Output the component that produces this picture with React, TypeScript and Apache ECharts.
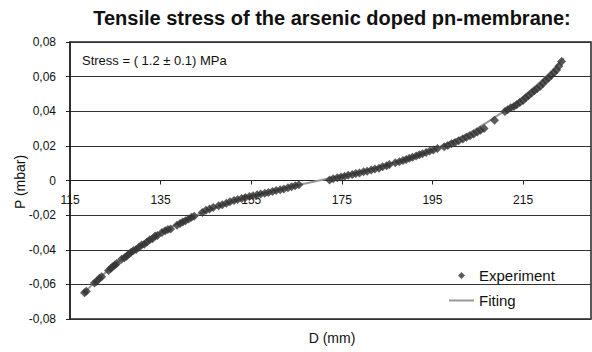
import React, { useEffect, useRef } from "react";
import * as echarts from "echarts";

const TITLE = "Tensile stress of the arsenic doped pn-membrane:";
const ANNOTATION = "Stress = ( 1.2 ± 0.1) MPa";
const X_NAME = "D (mm)";
const Y_NAME = "P (mbar)";
const SERIES_NAMES = ["Experiment", "Fiting"];
const X_TICKS = [115, 135, 155, 175, 195, 215];
const X_RANGE = [115, 230];
const Y_RANGE = [-0.08, 0.08];
const Y_STEP = 0.02;

const experimentD = [
  118.2, 118.6, 120.4, 120.9, 121.5, 122.0, 123.5, 124.0, 124.4, 124.9, 125.3, 126.4, 127.0, 127.5,
  128.0, 128.5, 129.0, 129.6, 130.2, 130.8, 131.4, 132.0, 132.6, 133.2, 133.8, 134.3, 135.3, 136.0,
  136.6, 137.2, 138.6, 139.3, 139.9, 140.5, 141.2, 141.8, 142.4, 144.2, 145.0, 145.8, 146.6, 147.8,
  148.6, 149.5, 150.3, 151.2, 152.0, 152.9, 153.7, 154.6, 155.4, 156.3, 157.1, 158.0, 158.8, 159.7,
  160.5, 161.4, 162.2, 163.1, 163.9, 164.7, 165.5,
  172.3, 173.1, 174.0, 174.8, 175.6, 176.4, 177.3, 178.1, 178.9, 179.8, 180.6, 181.5, 182.3, 183.2,
  184.0, 184.9, 185.5, 186.8, 187.7, 188.5, 189.2, 189.9, 190.6, 191.4, 192.1, 192.8, 193.6, 194.4,
  195.2, 196.1, 197.6, 198.4, 199.2, 200.0, 200.8, 201.7, 202.5, 203.3, 204.1, 204.9, 205.6, 206.4,
  208.7, 211.0, 211.6, 212.3, 213.0, 213.6, 214.3, 215.0, 215.6, 216.2, 216.9, 217.5, 218.1, 218.8,
  219.4, 220.0, 220.6, 221.2, 221.8, 222.4, 222.9, 223.5,
];
const experimentP = [
  -0.0648, -0.064, -0.0592, -0.0582, -0.0565, -0.0556, -0.052, -0.0508, -0.0498, -0.0488, -0.048, -0.0455, -0.0446, -0.0438,
  -0.0425, -0.0414, -0.0405, -0.0398, -0.0385, -0.0372, -0.0368, -0.0355, -0.0342, -0.0336, -0.032, -0.0318, -0.03, -0.029,
  -0.0283, -0.028, -0.0258, -0.0248, -0.024, -0.0232, -0.0222, -0.0212, -0.0206, -0.0185, -0.0172, -0.0165, -0.0156, -0.0146,
  -0.014, -0.0131, -0.0123, -0.0116, -0.011, -0.0104, -0.0098, -0.0092, -0.0088, -0.0083, -0.0078, -0.0073, -0.0069, -0.0063,
  -0.0058, -0.0053, -0.0049, -0.0042, -0.0036, -0.003, -0.0025,
  0.0003, 0.001, 0.0016, 0.002, 0.0025, 0.003, 0.0035, 0.004, 0.0044, 0.005, 0.0054, 0.006, 0.0066, 0.0071,
  0.0079, 0.0085, 0.0093, 0.0102, 0.0109, 0.0116, 0.0121, 0.0128, 0.0135, 0.0142, 0.0149, 0.0155, 0.0162, 0.017,
  0.0176, 0.0185, 0.0195, 0.0202, 0.0212, 0.022, 0.023, 0.024, 0.025, 0.0259, 0.0268, 0.028, 0.029, 0.03,
  0.0348, 0.0398, 0.0408, 0.042, 0.0428, 0.0438, 0.045, 0.0462, 0.0478, 0.049, 0.0505, 0.0518, 0.053, 0.0545,
  0.056, 0.0578, 0.059, 0.0606, 0.0622, 0.0638, 0.066, 0.0687,
];

const fitD = [118, 120, 125, 130, 135, 140, 145, 150, 155, 160, 165, 170, 175, 180, 185, 190, 195, 200, 205, 210, 215, 220, 224];
const fitP = [-0.0652, -0.06, -0.0484, -0.0386, -0.0303, -0.0234, -0.0177, -0.013, -0.0091, -0.0057, -0.0028, 0, 0.0028, 0.0057, 0.0091, 0.013, 0.0177, 0.0234, 0.0303, 0.0386, 0.0484, 0.06, 0.0707];

const FONT = "'Liberation Sans', Arial, Helvetica, sans-serif";

const GRID_TOP = 42;
const GRID_BOTTOM = 33;
const HEIGHT = 352;

export default function App() {
  const ref = useRef<HTMLDivElement>(null);
  useEffect(() => {
    if (!ref.current) return;
    const chart = echarts.init(ref.current, null, { renderer: "svg" });
    const fmtY = (v: number) => {
      if (Math.abs(v) < 1e-9) return "0";
      return v.toFixed(2).replace(".", ",");
    };
    const plotH = HEIGHT - GRID_TOP - GRID_BOTTOM;
    const zeroFromBottom = plotH * ((0 - Y_RANGE[0]) / (Y_RANGE[1] - Y_RANGE[0]));
    chart.setOption({
      animation: false,
      backgroundColor: "#ffffff",
      textStyle: { fontFamily: FONT },
      grid: {
        left: 70,
        right: 1,
        top: GRID_TOP,
        bottom: GRID_BOTTOM,
        show: true,
        borderColor: "#222",
        borderWidth: 1.5,
        containLabel: false,
      },
      xAxis: {
        type: "value",
        min: X_RANGE[0],
        max: X_RANGE[1],
        offset: -zeroFromBottom,
        axisLine: { onZero: false, lineStyle: { color: "#222", width: 1 } },
        axisTick: { show: true, length: 4, customValues: X_TICKS, lineStyle: { color: "#222" } },
        axisLabel: { customValues: X_TICKS, color: "#111", fontSize: 12, margin: 13, fontFamily: FONT },
        splitLine: { show: false },
      },
      yAxis: {
        type: "value",
        min: Y_RANGE[0],
        max: Y_RANGE[1],
        interval: Y_STEP,
        axisLine: { show: true, lineStyle: { color: "#222", width: 1.5 } },
        axisTick: { show: true, length: 4, lineStyle: { color: "#222" } },
        axisLabel: { color: "#111", fontSize: 12, margin: 14, formatter: fmtY, fontFamily: FONT },
        splitLine: { show: true, lineStyle: { color: "#333", width: 1 } },
      },
      legend: {
        orient: "vertical",
        left: 444,
        top: 263,
        itemWidth: 25,
        itemHeight: 7,
        itemGap: 10,
        textStyle: { fontSize: 15, color: "#111", fontFamily: FONT },
        data: [
          { name: SERIES_NAMES[0], icon: "path://M0,-1 L1,0 L0,1 L-1,0 Z" },
          { name: SERIES_NAMES[1], icon: "path://M0,0 L25,0 L25,2 L0,2 Z", itemStyle: { color: "#999" } },
        ],
      },
      series: [
        {
          name: SERIES_NAMES[1],
          type: "line",
          data: fitD.map((d, i) => [d, fitP[i]]),
          smooth: true,
          showSymbol: false,
          symbol: "none",
          lineStyle: { color: "#999", width: 2 },
          itemStyle: { color: "#999" },
          z: 2,
        },
        {
          name: SERIES_NAMES[0],
          type: "scatter",
          data: experimentD.map((d, i) => [d, experimentP[i]]),
          symbol: "diamond",
          symbolSize: 9,
          itemStyle: { color: "#333" },
          z: 3,
        },
      ],
      graphic: [
        {
          type: "text",
          x: 332,
          y: 18,
          style: {
            text: TITLE,
            fontSize: 20,
            fontWeight: "bold",
            fontFamily: FONT,
            fill: "#111",
            textAlign: "center",
            textVerticalAlign: "middle",
          },
        },
        {
          type: "text",
          x: 82,
          y: 60,
          style: {
            text: ANNOTATION,
            fontSize: 13,
            fontFamily: FONT,
            fill: "#111",
            textAlign: "left",
            textVerticalAlign: "middle",
          },
        },
        {
          type: "text",
          x: 332,
          y: 338,
          style: {
            text: X_NAME,
            fontSize: 14,
            fontFamily: FONT,
            fill: "#111",
            textAlign: "center",
            textVerticalAlign: "middle",
          },
        },
        {
          type: "text",
          x: 20,
          y: 182,
          rotation: Math.PI / 2,
          style: {
            text: Y_NAME,
            fontSize: 14,
            fontFamily: FONT,
            fill: "#111",
            textAlign: "center",
            textVerticalAlign: "middle",
          },
        },
      ],
    });
    return () => chart.dispose();
  }, []);
  return (
    <div
      ref={ref}
      style={{ position: "fixed", left: 0, top: 0, width: 592, height: 352 }}
    />
  );
}
